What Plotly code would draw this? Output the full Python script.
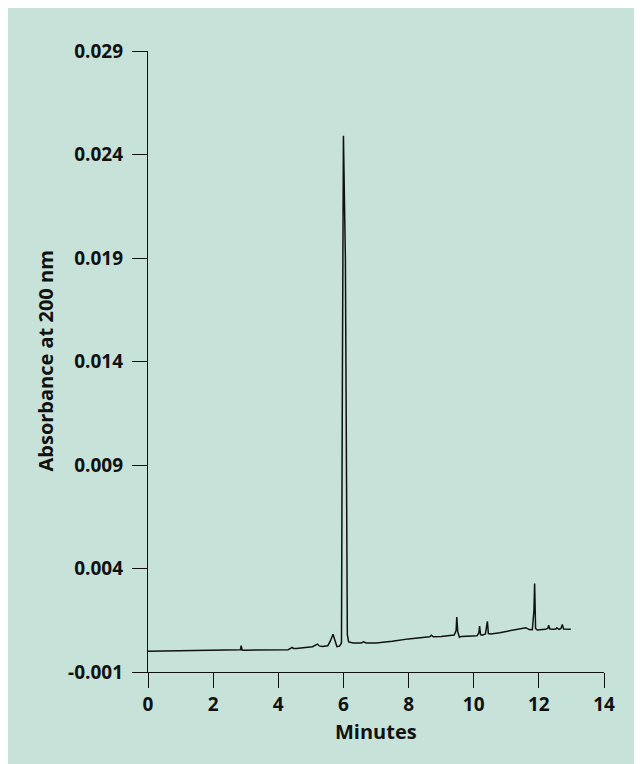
import plotly.graph_objects as go

minutes = [0.0, 2.80, 2.84, 2.86, 2.89, 2.93, 4.30, 4.38, 4.42, 4.47, 4.55, 5.05, 5.15, 5.20,
           5.26, 5.35, 5.52, 5.60, 5.68, 5.74, 5.80, 5.88, 5.94, 5.97, 6.00, 6.06, 6.09, 6.12,
           6.16, 6.30, 6.55, 6.62, 6.70, 7.00, 7.50, 8.00, 8.50, 8.65, 8.70, 8.76, 9.00, 9.40,
           9.46, 9.48, 9.51, 9.56, 9.62, 10.10, 10.16, 10.18, 10.21, 10.26, 10.36, 10.40, 10.42,
           10.45, 10.52, 10.80, 11.30, 11.50, 11.60, 11.70, 11.80, 11.85, 11.87, 11.90, 11.95,
           12.20, 12.28, 12.30, 12.34, 12.45, 12.52, 12.55, 12.62, 12.68, 12.72, 12.76, 12.85,
           12.98]
absorbance = [0.00000, 0.00005, 0.00008, 0.00027, 0.00006, 0.00005, 0.00008, 0.00014, 0.00019,
              0.00014, 0.00013, 0.00022, 0.00030, 0.00035, 0.00026, 0.00023, 0.00027, 0.00050,
              0.00082, 0.00050, 0.00023, 0.00025, 0.00040, 0.01400, 0.02490, 0.01900, 0.00500,
              0.00080, 0.00045, 0.00040, 0.00040, 0.00046, 0.00040, 0.00040, 0.00048, 0.00060,
              0.00068, 0.00070, 0.00078, 0.00070, 0.00072, 0.00079, 0.00100, 0.00166, 0.00095,
              0.00068, 0.00072, 0.00075, 0.00090, 0.00122, 0.00080, 0.00078, 0.00084, 0.00130,
              0.00145, 0.00086, 0.00084, 0.00090, 0.00103, 0.00108, 0.00114, 0.00105, 0.00104,
              0.00200, 0.00327, 0.00110, 0.00103, 0.00106, 0.00112, 0.00126, 0.00108, 0.00107,
              0.00108, 0.00114, 0.00106, 0.00110, 0.00130, 0.00108, 0.00107, 0.00106]

x_ticks = [0, 2, 4, 6, 8, 10, 12, 14]
y_ticks = [-0.001, 0.004, 0.009, 0.014, 0.019, 0.024, 0.029]
y_tick_labels = ["-0.001", "0.004", "0.009", "0.014", "0.019", "0.024", "0.029"]

BG = "#c7e3d9"
FONT = "Open Sans"
INK = "#111111"

# page is offset by the default 8px body margin
W, H = 634, 756
L, R, T, B = 140, 38, 43, 92
pw, ph = W - L - R, H - T - B

fig = go.Figure()
fig.add_trace(go.Scatter(x=minutes, y=absorbance, mode="lines",
                         line=dict(color=INK, width=1.5), showlegend=False))

axis_common = dict(ticks="outside", ticklen=15, tickwidth=1.3, tickcolor=INK,
                   showline=True, linecolor=INK, linewidth=1.3,
                   showgrid=False, zeroline=False,
                   tickfont=dict(family=FONT, size=19, color=INK, weight="bold"))

fig.update_layout(
    width=W, height=H,
    margin=dict(l=L, r=R, t=T, b=B),
    paper_bgcolor=BG,
    plot_bgcolor=BG,
    font=dict(family=FONT, color=INK),
    shapes=[dict(type="rect", xref="paper", yref="paper", layer="below",
                 x0=-1, x1=2, y0=(H - T - 5) / ph, y1=(H - T + 10) / ph,
                 fillcolor="white", line=dict(width=0))],
    xaxis=dict(range=[0, 14], tickvals=x_ticks, **axis_common),
    yaxis=dict(range=[-0.001, 0.029], tickvals=y_ticks, ticktext=y_tick_labels,
               ticklabelstandoff=5, **axis_common),
    annotations=[
        dict(text="Absorbance at 200 nm", xref="paper", yref="paper",
             x=(37 - L) / pw, y=0.5, textangle=-90, showarrow=False,
             xanchor="center", yanchor="middle",
             font=dict(family=FONT, size=20, color=INK, weight="bold")),
        dict(text="Minutes", xref="paper", yref="paper",
             x=(368 - L) / pw, y=(T + ph - 723) / ph, showarrow=False,
             xanchor="center", yanchor="middle",
             font=dict(family=FONT, size=20, color=INK, weight="bold")),
    ],
)

fig.write_html("out.html")
